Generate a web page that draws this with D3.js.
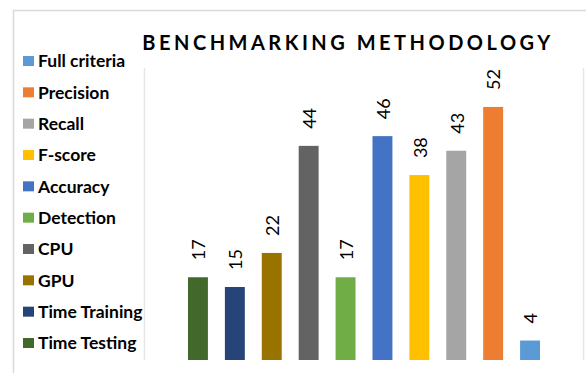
<!DOCTYPE html>
<html>
<head>
<meta charset="utf-8">
<script src="https://cdn.jsdelivr.net/npm/d3@7"></script>
<style>
  html, body { margin: 0; padding: 0; background: #fff; }
  svg { display: block; }
</style>
</head>
<body>
<svg id="chart" width="586" height="373"></svg>
<script>
// Benchmarking criteria, in bar order (left to right)
const categories = ["Time Testing", "Time Training", "GPU", "CPU", "Detection",
                    "Accuracy", "F-score", "Recall", "Precision", "Full criteria"];
const counts = [17, 15, 22, 44, 17, 46, 38, 43, 52, 4];
const colors = ["#43682B", "#264478", "#997300", "#636363", "#70AD47",
                "#4472C4", "#FFC000", "#A5A5A5", "#ED7D31", "#5B9BD5"];
const title = "BENCHMARKING METHODOLOGY";

const svg = d3.select("#chart");
const W = 586, H = 373;

// Outer chart frame (continues past the right and bottom edges)
svg.append("path")
  .attr("d", `M13.5,${H + 2} V10.5 H${W + 2}`)
  .attr("fill", "none")
  .attr("stroke", "#d9d9d9")
  .attr("stroke-width", 1.5);

const x = d3.scaleBand()
  .domain(categories)
  .range([179.5, 548.5])
  .paddingInner(0.46)
  .paddingOuter(0.23);

const y = d3.scaleLinear().domain([0, 60]).range([360, 68]);

// Plot area side rules
[144.5, 583.5].forEach(px => {
  svg.append("line")
    .attr("x1", px).attr("x2", px)
    .attr("y1", y(60)).attr("y2", y(0))
    .attr("stroke", "#e6e6e6")
    .attr("stroke-width", 1.5);
});

// Title
svg.append("text")
  .attr("x", 348)
  .attr("y", 50)
  .attr("text-anchor", "middle")
  .attr("font-family", "Lato, 'Open Sans', sans-serif")
  .attr("font-weight", "bold")
  .attr("font-size", 20)
  .attr("letter-spacing", "3.5px")
  .attr("fill", "#000")
  .text(title);

// Bars
const data = categories.map((c, i) => ({ c, v: counts[i], col: colors[i] }));

svg.append("g").selectAll("rect")
  .data(data)
  .join("rect")
  .attr("x", d => x(d.c))
  .attr("width", x.bandwidth())
  .attr("y", d => y(d.v))
  .attr("height", d => y(0) - y(d.v))
  .attr("fill", d => d.col);

// Rotated value labels above each bar
svg.append("g").selectAll("text")
  .data(data)
  .join("text")
  .attr("transform", d => `translate(${x(d.c) + x.bandwidth() / 2 + 1},${y(d.v) - 17}) rotate(-90)`)
  .attr("dy", "0.35em")
  .attr("text-anchor", "start")
  .attr("font-family", "Lato, 'Open Sans', sans-serif")
  .attr("font-size", 18)
  .attr("fill", "#000")
  .text(d => d.v);

// Legend (reverse of bar order)
const legendItems = data.slice().reverse();
const ly = d3.scalePoint()
  .domain(legendItems.map(d => d.c))
  .range([61, 343]);

const lg = svg.append("g").selectAll("g")
  .data(legendItems)
  .join("g")
  .attr("transform", d => `translate(0,${ly(d.c)})`);

lg.append("rect")
  .attr("x", 23).attr("y", -5)
  .attr("width", 11).attr("height", 10)
  .attr("fill", d => d.col);

lg.append("text")
  .attr("x", 38)
  .attr("dy", "0.36em")
  .attr("font-family", "Lato, 'Open Sans', sans-serif")
  .attr("font-weight", "bold")
  .attr("font-size", 17.5)
  .attr("fill", "#000")
  .text(d => d.c);
</script>
</body>
</html>
